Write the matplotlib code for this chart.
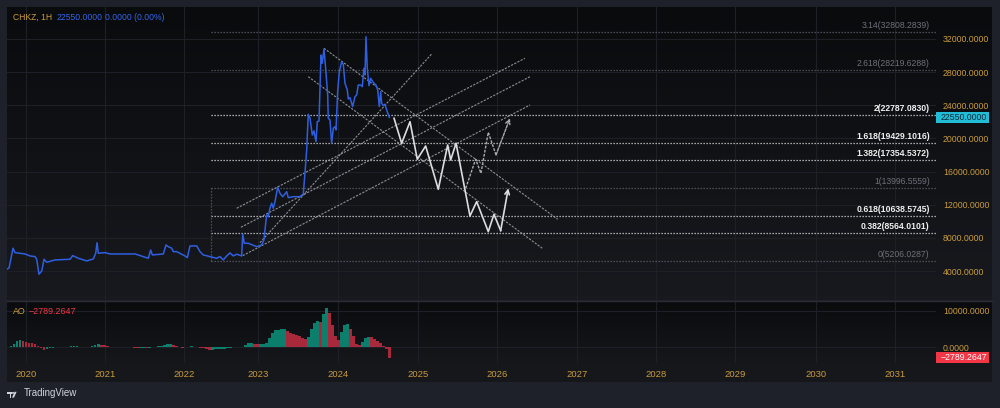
import matplotlib
matplotlib.use("Agg")
import numpy as np
import matplotlib.pyplot as plt
from matplotlib.colors import LinearSegmentedColormap
from matplotlib.patches import Rectangle, Polygon, Circle
import matplotlib.transforms as mtransforms

plt.rcParams['font.family'] = ['Liberation Sans', 'DejaVu Sans']

# ---- data ----
price_t = [2019.767, 2019.789, 2019.839, 2019.865, 2019.991, 2020.054, 2020.118, 2020.139, 2020.168, 2020.203,
           2020.232, 2020.266, 2020.371, 2020.561, 2020.595, 2020.666, 2020.772, 2020.856, 2020.886, 2020.903,
           2020.919, 2021.004, 2021.067, 2021.194, 2021.384, 2021.552, 2021.582, 2021.603, 2021.742, 2021.776,
           2021.805, 2021.848, 2021.868, 2021.911, 2022.016, 2022.046, 2022.080, 2022.165, 2022.206, 2022.248,
           2022.333, 2022.418, 2022.459, 2022.501, 2022.544, 2022.586, 2022.628, 2022.671, 2022.734, 2022.747,
           2022.767, 2022.818, 2022.924, 2022.987, 2023.016, 2023.038, 2023.051, 2023.071, 2023.092, 2023.114,
           2023.134, 2023.156, 2023.190, 2023.219, 2023.253, 2023.304, 2023.324, 2023.387, 2023.472, 2023.514,
           2023.535, 2023.557, 2023.577, 2023.599, 2023.628, 2023.649, 2023.675, 2023.691, 2023.713, 2023.738,
           2023.754, 2023.776, 2023.797, 2023.823, 2023.830, 2023.852, 2023.873, 2023.894, 2023.915, 2023.928,
           2023.949, 2023.970, 2024.000, 2024.020, 2024.042, 2024.071, 2024.084, 2024.105, 2024.139, 2024.168,
           2024.190, 2024.210, 2024.241, 2024.261, 2024.282, 2024.295, 2024.308, 2024.324, 2024.346, 2024.367,
           2024.387, 2024.409, 2024.434, 2024.456, 2024.476, 2024.494, 2024.506, 2024.527, 2024.548, 2024.577,
           2024.603]
price_v = [4260, 4380, 6760, 6230, 6070, 5830, 5750, 5430, 3620, 4020,
           5430, 5070, 5350, 5430, 5870, 5550, 5230, 5470, 6160, 7430,
           6160, 6230, 6070, 6070, 6070, 5550, 6550, 5950, 6070, 7160,
           6950, 6760, 6350, 6350, 5830, 5630, 7040, 7040, 6350, 5950,
           5750, 5550, 5750, 5350, 5830, 6200, 5830, 6040, 5830, 8450,
           7360, 7360, 6950, 7160, 7760, 9770, 10770, 10570, 11580, 12190,
           11580, 12380, 14120, 13390, 12980, 13580, 12860, 12980, 12980, 13310,
           15800, 18610, 22920, 22440, 20420, 20910, 19610, 22030, 22110, 30070,
           29070, 30790, 28470, 25250, 22440, 22230, 19420, 21230, 21420, 21030,
           25640, 28060, 29260, 28950, 26660, 25850, 24760, 24920, 23840, 25040,
           25250, 26450, 26450, 26250, 28470, 27660, 32280, 28470, 26370, 27260,
           26940, 26660, 26450, 25850, 23840, 25640, 24250, 23960, 24130, 23230,
           22550]

fib_ratio = ['3.14', '2.618', '2', '1.618', '1.382', '1', '0.618', '0.382', '0']
fib_price = [32808.2839, 28219.6288, 22787.0830, 19429.1016, 17354.5372,
             13996.5559, 10638.5745, 8564.0101, 5206.0287]
fib_bright = [False, False, True, True, True, False, True, True, False]
fib_start = 2022.35

# drawn trend lines: (t0, p0, t1, p1)
trend_lines = [
    (2022.671, 11583, 2026.320, 29672),
    (2022.725, 9291, 2026.384, 27453),
    (2022.747, 5866, 2026.384, 24040),
    (2022.966, 7434, 2025.147, 30275),
    (2023.776, 30878, 2026.734, 10256),
    (2023.577, 27453, 2026.539, 6758),
]

# projected paths
proj_t = [2024.663, 2024.759, 2024.865, 2024.957, 2025.063, 2025.223, 2025.342, 2025.380,
          2025.448, 2025.624, 2025.709, 2025.856, 2025.928, 2026.013, 2026.109]
proj_v = [22437, 19422, 22026, 17492, 19096, 13874, 19216, 17407,
          19422, 10654, 12378, 8761, 10859, 8881, 13994]
alt_t = [2025.570, 2025.696, 2025.763, 2025.856, 2025.954, 2026.130]
alt_v = [13994, 17492, 15803, 20748, 18010, 22437]

# Awesome Oscillator, one value every ~0.038 yr from 2019.776
ao_t0, ao_dt = 2019.776, 0.038
ao_v = [200, 400, 900, 1800, 2100, 1700, 1400, 1300, 1100, 800,
        400, -200, -700, -500, -300, -100, 100, 0, 100, 200,
        200, 300, 400, 400, 100, 0, 100, 200, 300, 600,
        800, 700, 500, 300, 200, 100, 100, 0, 0, 100,
        100, 0, -100, -200, -200, -200, -300, -100, 0, 200,
        300, 400, 500, 800, 1000, 700, 300, 0, -100, 0,
        100, 300, 200, 0, -100, -300, -500, -700, -700, -600,
        -600, -500, -400, -200, -100, 100, 200, 200, 100, 600,
        1100, 1300, 1000, 900, 900, 900, 1200, 2500, 3800, 4600,
        4800, 5000, 5100, 4500, 4000, 3600, 3300, 3000, 2600, 2300,
        2800, 5000, 6600, 7200, 7000, 9000, 10800, 9500, 6000, 3000,
        2000, 4200, 6200, 6400, 5000, 3000, 1000, 500, 1500, 2500,
        2900, 2700, 2400, 1800, 1200, 400, -600, -2789.2647]

year_labels = ['2020', '2021', '2022', '2023', '2024', '2025', '2026', '2027', '2028', '2029', '2030', '2031']
year_pos = [2020.0, 2021.0, 2022.0, 2022.94, 2023.95, 2024.97, 2025.97, 2026.98, 2027.98, 2028.98, 2030.0, 2031.0]
price_ticks = [4000, 8000, 12000, 16000, 20000, 24000, 28000, 32000]
last_price = 22550.0

# ---- style ----
FRAME = '#1e212a'
GOLD = '#c99b3e'
GRID = '#1d2027'
BLUE = '#2f5fe0'
W, H = 1000, 408
XLIM = (2019.763, 2031.524)


def fbox(x0, y0, x1, y1):
    return [x0 / W, 1 - y1 / H, (x1 - x0) / W, (y1 - y0) / H]


fig = plt.figure(figsize=(10, 4.08), dpi=100, facecolor=FRAME)

grad_price = LinearSegmentedColormap.from_list('gp', ['#0a0b0d', '#17191e'])
grad_ao = LinearSegmentedColormap.from_list('ga', ['#0a0b0d', '#15171b'])
for box, cm in [(fbox(7, 7, 992, 300), grad_price), (fbox(7, 301, 992, 363), grad_ao)]:
    bg = fig.add_axes(box)
    bg.imshow(np.linspace(0, 1, 64).reshape(-1, 1), cmap=cm, aspect='auto', extent=[0, 1, 0, 1])
    bg.axis('off')
tx = fig.add_axes(fbox(7, 363, 992, 382))
tx.set_facecolor('#15171b')
tx.set_xticks([]); tx.set_yticks([])
for s in tx.spines.values():
    s.set_visible(False)

# ---- price pane ----
ax = fig.add_axes(fbox(7, 7, 936, 300))
ax.patch.set_visible(False)
ax.set_xlim(*XLIM)
ax.set_ylim(516, 35860)
for s in ax.spines.values():
    s.set_visible(False)
ax.set_xticks(year_pos)
ax.set_xticklabels([])
ax.yaxis.tick_right()
ax.set_yticks(price_ticks)
ax.set_yticklabels([f'{v:.4f}' for v in price_ticks])
ax.tick_params(axis='y', length=0, pad=5, labelsize=6.3, labelcolor=GOLD)
ax.tick_params(axis='x', length=0)
ax.grid(True, color=GRID, lw=0.8)
ax.set_axisbelow(True)

for r, p, bright in zip(fib_ratio, fib_price, fib_bright):
    col = '#d6d6d6' if bright else '#5c5f67'
    ax.plot([fib_start, XLIM[1]], [p, p], color=col, lw=0.9, ls=(0, (1, 1.4)))
    ax.text(XLIM[1] - 0.08, p + 280, f'{r}({p:.4f})', ha='right', va='bottom', fontsize=6.2,
            color='#f0f0f0' if bright else '#6d7079', fontweight='bold' if bright else 'normal')
ax.plot([fib_start, fib_start], [fib_price[-1], fib_price[5]], color='#5c5f67', lw=0.9, ls=(0, (1, 1.4)))

for t0, p0, t1, p1 in trend_lines:
    ax.plot([t0, t1], [p0, p1], color='#9a9da5', lw=0.8, ls=(0, (2, 1.2)), alpha=0.9)

ax.plot(price_t, price_v, color=BLUE, lw=1.1, zorder=5)

ax.plot(alt_t[:-1], alt_v[:-1], color='#a7aab2', lw=1.0, ls=(0, (2, 1)))
ax.annotate('', xy=(alt_t[-1], alt_v[-1]), xytext=(alt_t[-2], alt_v[-2]),
            arrowprops=dict(arrowstyle='->', color='#a7aab2', lw=1.0, ls=(0, (2, 1)),
                            shrinkA=0, shrinkB=0, mutation_scale=8))
ax.plot(proj_t[:-1], proj_v[:-1], color='#dcdde0', lw=1.2)
ax.annotate('', xy=(proj_t[-1], proj_v[-1]), xytext=(proj_t[-2], proj_v[-2]),
            arrowprops=dict(arrowstyle='->', color='#dcdde0', lw=1.2, shrinkA=0, shrinkB=0,
                            mutation_scale=8))

# last price tag
tr = mtransforms.blended_transform_factory(ax.transAxes, ax.transData)
half = 5.5 / 0.00829
ax.add_patch(Rectangle((1.0, last_price - half), 53 / 929, 2 * half, transform=tr,
                       facecolor='#22bcd6', edgecolor='none', clip_on=False, zorder=6))
ax.text(1.0 + 5 / 929, last_price, f'{last_price:.4f}', transform=tr, ha='left', va='center',
        fontsize=6.3, color='#0b2a3a', clip_on=False, zorder=7)

fig.text(13 / W, 1 - 17 / H, 'CHKZ, 1H', color=GOLD, fontsize=6.2, va='center')
fig.text(57 / W, 1 - 17 / H, f'{last_price:.4f}', color='#3563e9', fontsize=6.2, va='center')
fig.text(105 / W, 1 - 17 / H, '0.0000 (0.00%)', color='#3563e9', fontsize=6.2, va='center')

# ---- AO pane ----
ao = fig.add_axes(fbox(7, 301, 936, 363))
ao.patch.set_visible(False)
ao.set_xlim(*XLIM)
ao.set_ylim(-4290, 12650)
for s in ao.spines.values():
    s.set_visible(False)
ao_t = ao_t0 + ao_dt * np.arange(len(ao_v))
ao_arr = np.array(ao_v, dtype=float)
rising = np.concatenate([[True], np.diff(ao_arr) >= 0])
ao_cols = np.where(rising, '#0c7f6c', '#a8293b')
ao.bar(ao_t, ao_arr, width=ao_dt * 0.95, color=ao_cols, linewidth=0)
ao.yaxis.tick_right()
ao.set_yticks([0, 10000])
ao.set_yticklabels(['0.0000', '10000.0000'])
ao.tick_params(axis='y', length=0, pad=5, labelsize=6.3, labelcolor=GOLD)
ao.set_xticks(year_pos)
ao.set_xticklabels(year_labels)
ao.tick_params(axis='x', length=0, pad=5, labelsize=6.8, labelcolor=GOLD)
ao.grid(True, color=GRID, lw=0.8)
ao.set_axisbelow(True)

tr2 = mtransforms.blended_transform_factory(ao.transAxes, ao.transData)
halfa = 5.5 / 62 * 16940
ao.add_patch(Rectangle((1.0, ao_v[-1] - halfa), 53 / 929, 2 * halfa, transform=tr2,
                       facecolor='#f23645', edgecolor='none', clip_on=False, zorder=6))
ao.text(1.0 + 5 / 929, ao_v[-1], f'\u2212{abs(ao_v[-1]):.4f}', transform=tr2, ha='left', va='center',
        fontsize=6.3, color='white', clip_on=False, zorder=7)
fig.text(13 / W, 1 - 311 / H, 'AO', color=GOLD, fontsize=6.4, va='center')
fig.text(29 / W, 1 - 311 / H, f'\u2212{abs(ao_v[-1]):.4f}', color='#f23645', fontsize=6.4, va='center')

# pane separator
fig.add_artist(plt.Line2D([7 / W, 992 / W], [1 - 300.5 / H] * 2, color='#2a2d36', lw=1))

# TradingView mark
ov = fig.add_axes([0, 0, 1, 1])
ov.set_xlim(0, W); ov.set_ylim(H, 0); ov.axis('off')
ov.patch.set_visible(False)
ov.add_patch(Rectangle((7.3, 391.8), 4.2, 1.8, color='#d1d4dc', lw=0))
ov.add_patch(Rectangle((9.5, 391.8), 1.9, 5.8, color='#d1d4dc', lw=0))
ov.add_patch(Circle((13.0, 392.9), 1.0, color='#d1d4dc', lw=0))
ov.add_patch(Polygon([(14.6, 391.8), (16.6, 391.8), (14.0, 397.6), (12.0, 397.6)], color='#d1d4dc', lw=0))
ov.text(24, 393.5, 'TradingView', color='#d1d4dc', fontsize=7.0, va='center', ha='left')

fig.savefig('out.png', dpi=100, facecolor=FRAME)
